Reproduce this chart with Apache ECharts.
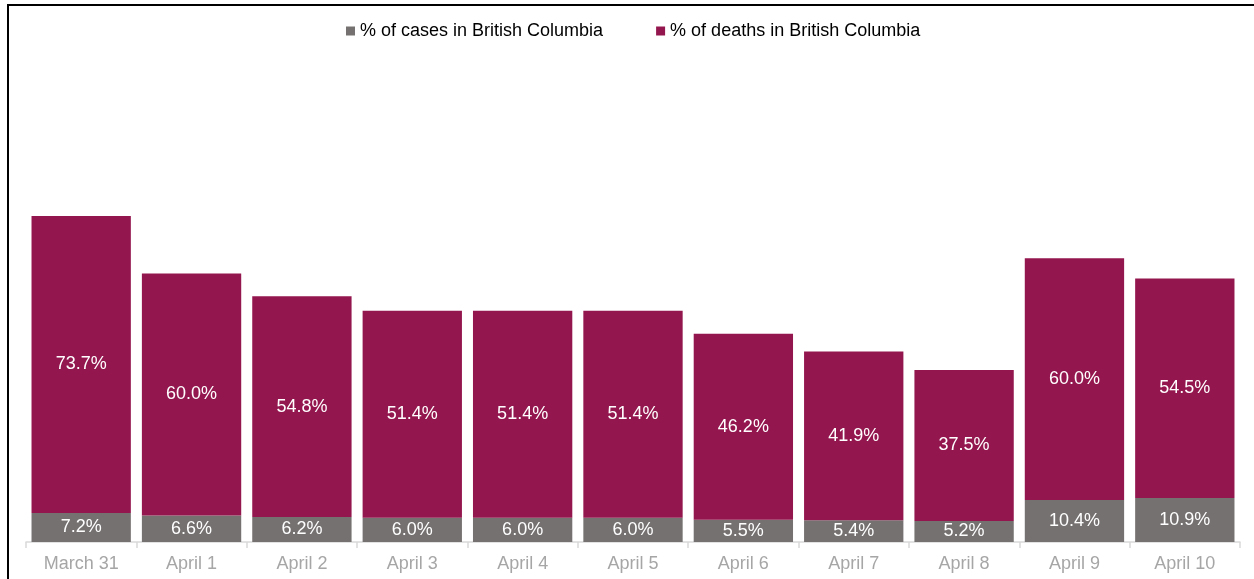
<!DOCTYPE html>
<html>
<head>
<meta charset="utf-8">
<style>
  html, body { margin: 0; padding: 0; background: #ffffff; }
  #chart { width: 1254px; height: 579px; }
</style>
<script src="https://cdn.jsdelivr.net/npm/echarts@6/dist/echarts.min.js"></script>
</head>
<body>
<div id="chart"></div>
<script>
const categories = ['March 31', 'April 1', 'April 2', 'April 3', 'April 4', 'April 5', 'April 6', 'April 7', 'April 8', 'April 9', 'April 10'];
const casesPct = [7.2, 6.6, 6.2, 6.0, 6.0, 6.0, 5.5, 5.4, 5.2, 10.4, 10.9];
const deathsPct = [73.7, 60.0, 54.8, 51.4, 51.4, 51.4, 46.2, 41.9, 37.5, 60.0, 54.5];
const seriesNames = ['% of cases in British Columbia', '% of deaths in British Columbia'];

const chart = echarts.init(document.getElementById('chart'), null, { renderer: 'canvas' });
const labelStyle = {
  show: true,
  position: 'inside',
  color: '#ffffff',
  fontFamily: 'Liberation Sans, Arial, sans-serif',
  fontSize: 18,
  formatter: p => p.value.toFixed(1) + '%'
};
chart.setOption({
  animation: false,
  backgroundColor: '#ffffff',
  legend: {
    top: 17,
    left: 341,
    itemWidth: 9,
    itemHeight: 9,
    itemGap: 53,
    icon: 'rect',
    textStyle: { color: '#000000', fontSize: 18, fontFamily: 'Liberation Sans, Arial, sans-serif' },
    data: seriesNames
  },
  grid: { left: 26, right: 14, top: 139, bottom: 37, containLabel: false },
  xAxis: {
    type: 'category',
    data: categories,
    axisLine: { lineStyle: { color: '#d9d9d9', width: 1.5 } },
    axisTick: { show: true, length: 6, lineStyle: { color: '#d9d9d9', width: 1.5 } },
    axisLabel: { color: '#a6a6a6', fontSize: 18, margin: 13, fontFamily: 'Liberation Sans, Arial, sans-serif' }
  },
  yAxis: {
    type: 'value', min: 0, max: 100, show: false,
    splitLine: { show: false }
  },
  series: [
    {
      name: seriesNames[0], type: 'bar', stack: 'total', data: casesPct,
      barCategoryGap: '10%',
      itemStyle: { color: '#767171' },
      label: labelStyle
    },
    {
      name: seriesNames[1], type: 'bar', stack: 'total', data: deathsPct,
      barCategoryGap: '10%',
      itemStyle: { color: '#94164e' },
      label: labelStyle
    }
  ],
  graphic: [
    { type: 'line', shape: { x1: 8, y1: 5, x2: 8, y2: 579 }, style: { stroke: '#000000', lineWidth: 2 } },
    { type: 'line', shape: { x1: 7, y1: 5, x2: 1254, y2: 5 }, style: { stroke: '#000000', lineWidth: 2 } }
  ]
});
</script>
</body>
</html>
